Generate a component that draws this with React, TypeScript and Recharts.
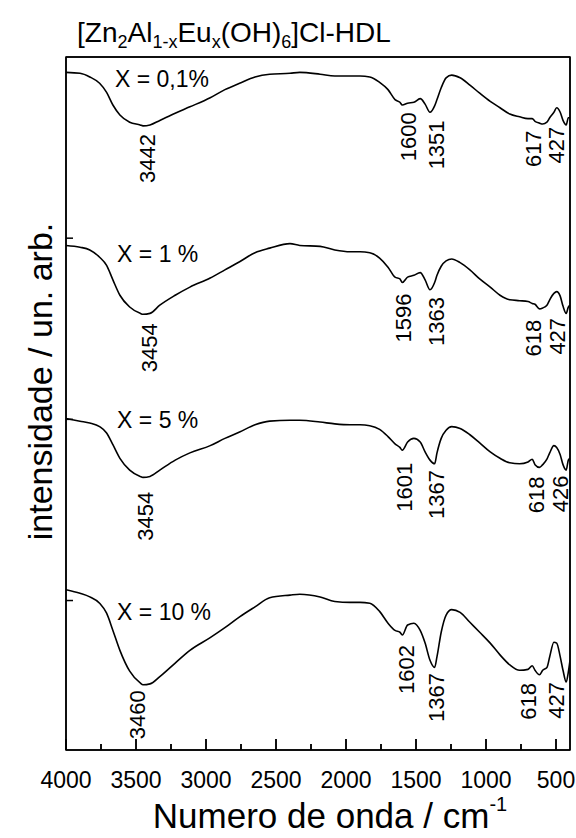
import React from 'react';
import { LineChart, Line, XAxis, YAxis, ReferenceDot, ReferenceLine } from 'recharts';

const FONT = '"Liberation Sans", Arial, Helvetica, sans-serif';

// wavenumber grid (cm-1), high -> low
const wavenumbers = [
  4000, 3900, 3830, 3760, 3710, 3665, 3615, 3545, 3470, 3450,
  3400, 3330, 3220, 3115, 2970, 2865, 2760, 2650, 2545, 2400,
  2330, 2185, 2080, 1970, 1900, 1830, 1760, 1700, 1650, 1615,
  1598, 1560, 1515, 1470, 1435, 1400, 1367, 1350, 1320, 1285,
  1245, 1185, 1115, 1045, 970, 900, 830, 760, 700, 670,
  650, 618, 595, 565, 545, 515, 495, 470, 450, 427,
  412, 400,
];

// stacked spectra, intensity in arb. units (offset already applied)
const x01 = [
  78.3, 78.2, 77.8, 77.1, 76.1, 74.7, 73.6, 72.8, 72.5, 72.4,
  72.5, 73.0, 73.8, 74.5, 75.5, 76.4, 77.1, 77.8, 78.1, 78.2,
  78.3, 78.1, 77.9, 77.9, 77.9, 77.8, 77.2, 76.4, 75.3, 75.0,
  74.7, 74.9, 75.0, 75.4, 74.8, 73.9, 74.6, 75.3, 76.6, 77.7,
  78.0, 77.7, 76.9, 76.0, 75.1, 74.4, 73.7, 73.4, 73.2, 73.2,
  72.9, 72.7, 72.6, 72.8, 73.3, 73.9, 74.4, 73.9, 73.0, 72.5,
  73.3, 73.3,
];
const x1 = [
  59.2, 59.0, 58.7, 57.9, 57.0, 55.4, 53.7, 52.4, 51.7, 51.6,
  51.7, 52.6, 53.7, 54.6, 55.6, 56.5, 57.4, 58.4, 58.9, 59.4,
  59.2, 59.1, 58.7, 58.5, 58.5, 58.4, 57.8, 56.8, 55.7, 55.5,
  55.1, 55.7, 55.9, 56.2, 55.4, 54.3, 55.1, 55.9, 56.9, 57.5,
  57.7, 57.3, 56.5, 55.5, 54.6, 53.7, 53.2, 53.1, 53.0, 52.8,
  52.7, 52.2, 52.3, 52.6, 53.2, 53.9, 54.1, 53.6, 52.5, 51.7,
  52.4, 52.6,
];
const x5 = [
  40.1, 39.8, 39.6, 39.2, 38.5, 37.2, 35.7, 34.4, 33.7, 33.6,
  33.7, 34.4, 35.5, 36.3, 37.1, 37.9, 38.6, 39.4, 39.8, 39.9,
  39.9, 39.7, 39.5, 39.4, 39.4, 39.3, 38.9, 38.1, 37.3, 36.9,
  36.6, 37.5, 37.9, 37.5, 36.4, 35.5, 35.1, 36.3, 37.9, 38.8,
  39.2, 39.0, 38.3, 37.4, 36.4, 35.7, 35.2, 35.1, 35.3, 35.6,
  35.0, 34.7, 35.0, 35.6, 36.3, 37.1, 36.9, 36.1, 35.0, 34.4,
  35.5, 35.7,
];
const x10 = [
  21.2, 20.8, 20.4, 19.7, 18.6, 16.7, 14.5, 12.2, 10.9, 10.7,
  10.8, 11.6, 13.1, 14.5, 15.9, 17.0, 18.2, 19.3, 20.3, 20.6,
  20.7, 20.4, 19.9, 19.8, 19.8, 19.7, 18.8, 17.5, 16.7, 16.5,
  16.2, 17.3, 17.5, 16.7, 15.3, 13.4, 12.6, 13.8, 16.5, 18.4,
  19.0, 18.7, 17.6, 16.5, 15.3, 14.0, 12.9, 12.3, 12.4, 12.8,
  12.3, 11.8, 12.3, 12.6, 13.8, 15.4, 15.3, 13.8, 12.3, 11.0,
  12.1, 13.4,
];

const seriesKeys = ['x01', 'x1', 'x5', 'x10'];

const curveLabels = [
  { text: 'X = 0,1%', wn: 3650, v: 76.7 },
  { text: 'X = 1 %', wn: 3635, v: 57.4 },
  { text: 'X = 5 %', wn: 3635, v: 39.0 },
  { text: 'X = 10 %', wn: 3635, v: 17.9 },
];

// band positions written next to the spectra
const peakLabels = [
  { text: '3442', wn: 3421, v: 71.5 },
  { text: '1600', wn: 1557, v: 73.9 },
  { text: '1351', wn: 1350, v: 73.0 },
  { text: '617', wn: 664, v: 71.9 },
  { text: '427', wn: 493, v: 72.3 },
  { text: '3454', wn: 3407, v: 50.6 },
  { text: '1596', wn: 1586, v: 53.9 },
  { text: '1363', wn: 1357, v: 53.5 },
  { text: '618', wn: 664, v: 51.0 },
  { text: '427', wn: 486, v: 51.2 },
  { text: '3454', wn: 3429, v: 32.0 },
  { text: '1601', wn: 1579, v: 35.2 },
  { text: '1367', wn: 1357, v: 34.4 },
  { text: '618', wn: 636, v: 33.7 },
  { text: '426', wn: 471, v: 33.8 },
  { text: '3460', wn: 3486, v: 10.1 },
  { text: '1602', wn: 1571, v: 15.1 },
  { text: '1367', wn: 1357, v: 12.0 },
  { text: '618', wn: 693, v: 10.9 },
  { text: '427', wn: 493, v: 11.0 },
];

const xTicks = [4000, 3750, 3500, 3250, 3000, 2750, 2500, 2250, 2000, 1750, 1500, 1250, 1000, 750, 500];
const yTicks = [20, 40, 60];
const X_DOMAIN = [400, 4000];
const Y_DOMAIN = [3.5, 80];

const CHART_W = 576;
const CHART_H = 838;
const MARGIN = { top: 57, right: 6, bottom: 0, left: 0 };
const Y_AXIS_W = 66;
const X_AXIS_H = 88;

// plot box, from the layout numbers above
const PLOT = {
  left: MARGIN.left + Y_AXIS_W,
  top: MARGIN.top,
  right: CHART_W - MARGIN.right,
  bottom: CHART_H - MARGIN.bottom - X_AXIS_H,
};

const data = wavenumbers.map((wn, i) => ({
  wn,
  x01: x01[i],
  x1: x1[i],
  x5: x5[i],
  x10: x10[i],
}));

const black = { stroke: '#000', strokeWidth: 1.5 };
const tickLen = (v: number) => (v % 500 === 0 ? 11 : 6);

function XTick({ x, y, payload }: any) {
  const major = payload.value % 500 === 0;
  return (
    <g>
      <line x1={x} y1={y} x2={x} y2={y - tickLen(payload.value)} stroke="#000" strokeWidth={1.5} />
      {major && (
        <text x={x} y={y + 38} textAnchor="middle" fontSize={23} fontFamily={FONT} fill="#000">
          {payload.value}
        </text>
      )}
    </g>
  );
}

function YTick({ x, y }: any) {
  return <line x1={x} y1={y} x2={x + 7} y2={y} stroke="#000" strokeWidth={1.5} />;
}

function XTitle({ viewBox }: any) {
  const cx = viewBox.x + viewBox.width / 2 + 12;
  return (
    <text x={cx} y={828} textAnchor="middle" fontSize={35} fontFamily={FONT} fill="#000">
      Numero de onda / cm
      <tspan fontSize={20} dy={-17}>-1</tspan>
    </text>
  );
}

function YTitle({ viewBox }: any) {
  const x = viewBox.x + 52;
  const y = viewBox.y + viewBox.height / 2 - 22;
  return (
    <text
      x={x}
      y={y}
      transform={`rotate(-90 ${x} ${y})`}
      textAnchor="middle"
      fontSize={34}
      fontFamily={FONT}
      fill="#000"
    >
      intensidade / un. arb.
    </text>
  );
}

const peakText = (text: string) => (props: any) => {
  const { x, y, width, height } = props.viewBox;
  const cx = x + width / 2;
  const cy = y + height / 2;
  return (
    <text
      x={cx}
      y={cy}
      transform={`rotate(-90 ${cx} ${cy})`}
      textAnchor="end"
      dominantBaseline="central"
      fontSize={22}
      fontFamily={FONT}
      fill="#000"
    >
      {text}
    </text>
  );
};

const curveText = (text: string) => (props: any) => {
  const { x, y, width, height } = props.viewBox;
  return (
    <text x={x + width / 2} y={y + height / 2} fontSize={23} fontFamily={FONT} fill="#000">
      {text}
    </text>
  );
};

const xTickEl = <XTick />;
const yTickEl = <YTick />;
const xTitleEl = <XTitle />;
const yTitleEl = <YTitle />;
const curveLabelFns = curveLabels.map((c) => curveText(c.text));
const peakLabelFns = peakLabels.map((p) => peakText(p.text));

// same linear map as the reversed x axis, used for the frame decoration only
const xPos = (wn: number) =>
  PLOT.left + ((X_DOMAIN[1] - wn) / (X_DOMAIN[1] - X_DOMAIN[0])) * (PLOT.right - PLOT.left);

function Overlay() {
  return (
    <svg
      width={CHART_W}
      height={CHART_H}
      style={{ position: 'absolute', left: 0, top: 0, pointerEvents: 'none' }}
    >
      <text x={77} y={42} fontSize={28} fontFamily={FONT} fill="#000">
        [Zn
        <tspan fontSize={18} dy={6}>2</tspan>
        <tspan dy={-6}>Al</tspan>
        <tspan fontSize={18} dy={6}>1-x</tspan>
        <tspan dy={-6}>Eu</tspan>
        <tspan fontSize={18} dy={6}>x</tspan>
        <tspan dy={-6}>(OH)</tspan>
        <tspan fontSize={18} dy={6}>6</tspan>
        <tspan dy={-6}>]Cl-HDL</tspan>
      </text>
      <rect
        x={PLOT.left}
        y={PLOT.top}
        width={PLOT.right - PLOT.left}
        height={PLOT.bottom - PLOT.top}
        fill="none"
        {...black}
      />
      {xTicks.map((t) => (
        <line
          key={t}
          x1={xPos(t)}
          x2={xPos(t)}
          y1={PLOT.bottom}
          y2={PLOT.bottom - tickLen(t)}
          {...black}
        />
      ))}
    </svg>
  );
}

export default function App() {
  return (
    <div style={{ position: 'absolute', left: 0, top: 0, width: CHART_W, height: CHART_H, background: '#fff' }}>
      <LineChart width={CHART_W} height={CHART_H} data={data} margin={MARGIN}>
        <XAxis
          dataKey="wn"
          type="number"
          domain={X_DOMAIN}
          reversed
          allowDataOverflow
          ticks={xTicks}
          interval={0}
          tickSize={0}
          tickMargin={0}
          tickLine={false}
          axisLine={black}
          height={X_AXIS_H}
          tick={xTickEl}
          label={xTitleEl}
        />
        <YAxis
          type="number"
          domain={Y_DOMAIN}
          allowDataOverflow
          ticks={yTicks}
          interval={0}
          tickSize={0}
          tickMargin={0}
          tickLine={false}
          axisLine={black}
          width={Y_AXIS_W}
          tick={yTickEl}
          label={yTitleEl}
        />
        <ReferenceLine y={Y_DOMAIN[1]} ifOverflow="visible" stroke="#000" strokeWidth={1.5} />
        <ReferenceLine x={X_DOMAIN[0]} ifOverflow="visible" stroke="#000" strokeWidth={1.5} />
        {seriesKeys.map((key) => (
          <Line
            key={key}
            dataKey={key}
            type="monotone"
            stroke="#000"
            strokeWidth={1.6}
            dot={false}
            activeDot={false}
            isAnimationActive={false}
          />
        ))}
        {curveLabels.map((c, i) => (
          <ReferenceDot
            key={`c${i}`}
            x={c.wn}
            y={c.v}
            r={1}
            fill="none"
            stroke="none"
            label={curveLabelFns[i]}
          />
        ))}
        {peakLabels.map((p, i) => (
          <ReferenceDot
            key={`p${i}`}
            x={p.wn}
            y={p.v}
            r={1}
            fill="none"
            stroke="none"
            label={peakLabelFns[i]}
          />
        ))}
      </LineChart>
      <Overlay />
    </div>
  );
}
